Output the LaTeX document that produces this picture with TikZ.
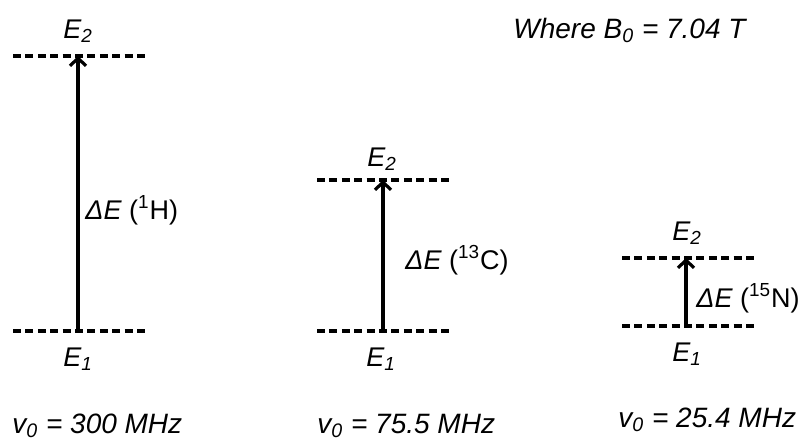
\documentclass[tikz,border=0pt]{standalone}
\usepackage{fontspec}
\setmainfont{Liberation Sans}
\usepackage{tikz}
\usetikzlibrary{
  arrows.meta,
  positioning
}
\definecolor{levelcolor}{RGB}{0, 0, 0}
\definecolor{labelcolor}{RGB}{0, 0, 0}
\tikzset{
levelline/.style={
  draw=levelcolor,
  line width=1.6pt,
  dash pattern=on 4pt off 2.2pt
},
transarrow/.style={
  -{Straight Barb[length=3.8pt,width=8pt,line width=1.6pt]},
  line width=1.6pt,
  draw=levelcolor
},
plaintext/.style={
  font=\fontsize{13.5}{15}\selectfont\itshape,
  text=labelcolor,
  inner sep=0pt,
  anchor=base west
},
energylabel/.style={
  plaintext
},
gaplabel/.style={
  plaintext
},
freqlabel/.style={
  plaintext,
  font=\fontsize{14}{16}\selectfont\itshape
}
}
\begin{document}
\begin{tikzpicture}[x=0.5pt,y=-0.5pt]
  \useasboundingbox (0,0) rectangle (804,441);

  % field strength
  \node[freqlabel] (field) at (513,38) {Where B\textsubscript{0} = 7.04 T};

  % 1H levels
  \coordinate (Hlow) at (78,331);
  \coordinate (Hhigh) at (78,56);
  \draw[levelline] ([xshift=-32.5pt]Hhigh) -- ([xshift=35pt]Hhigh);
  \draw[levelline] ([xshift=-32.5pt]Hlow) -- ([xshift=35pt]Hlow);
  \draw[transarrow] (Hlow) -- (Hhigh);
  \node[energylabel] (HE2) at (63,38) {E\textsubscript{2}};
  \node[energylabel] (HE1) at (63,366) {E\textsubscript{1}};
  \node[gaplabel] (Hgap) at (85,219) {ΔE {\upshape(\textsuperscript{1}H)}};
  \node[freqlabel] (Hfreq) at (12,433) {v\textsubscript{0} = 300 MHz};

  % 13C levels
  \coordinate (Clow) at (383,331);
  \coordinate (Chigh) at (383,180);
  \draw[levelline] ([xshift=-33pt]Chigh) -- ([xshift=35pt]Chigh);
  \draw[levelline] ([xshift=-33pt]Clow) -- ([xshift=35pt]Clow);
  \draw[transarrow] (Clow) -- (Chigh);
  \node[energylabel] (CE2) at (367,166) {E\textsubscript{2}};
  \node[energylabel] (CE1) at (366,366) {E\textsubscript{1}};
  \node[gaplabel] (Cgap) at (405,269) {ΔE {\upshape(\textsuperscript{13}C)}};
  \node[freqlabel] (Cfreq) at (317,433) {v\textsubscript{0} = 75.5 MHz};

  % 15N levels
  \coordinate (Nlow) at (686,326);
  \coordinate (Nhigh) at (686,258);
  \draw[levelline] ([xshift=-32pt]Nhigh) -- ([xshift=35.5pt]Nhigh);
  \draw[levelline] ([xshift=-32pt]Nlow) -- ([xshift=35.5pt]Nlow);
  \draw[transarrow] (Nlow) -- (Nhigh);
  \node[energylabel] (NE2) at (672,240) {E\textsubscript{2}};
  \node[energylabel] (NE1) at (672,361) {E\textsubscript{1}};
  \node[gaplabel] (Ngap) at (696,307) {ΔE {\upshape(\textsuperscript{15}N)}};
  \node[freqlabel] (Nfreq) at (618,427) {v\textsubscript{0} = 25.4 MHz};
\end{tikzpicture}
\end{document}
